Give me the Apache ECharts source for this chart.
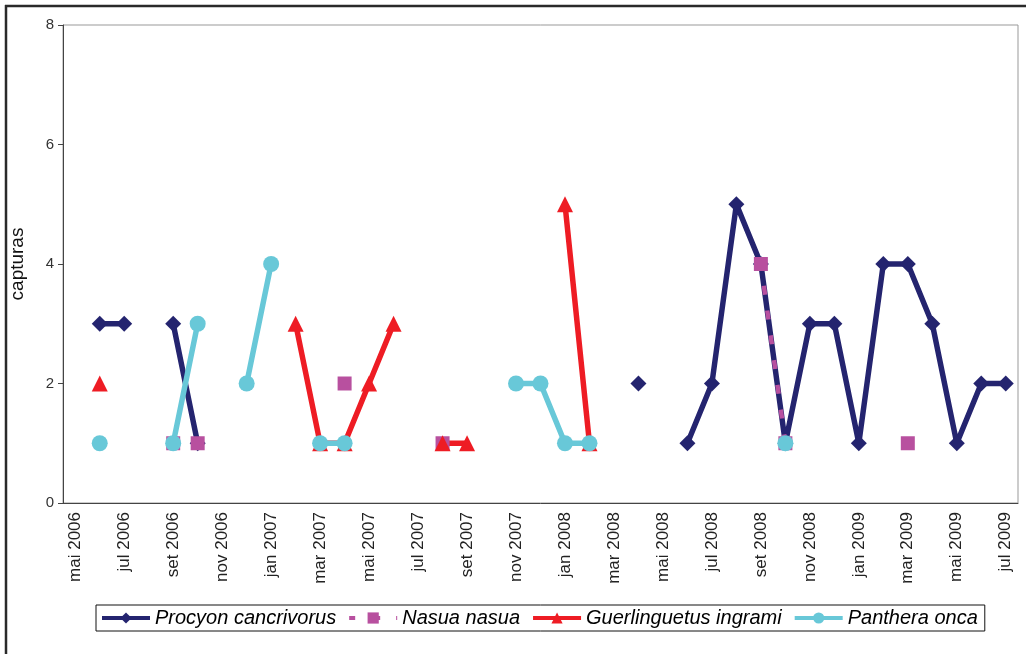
<!DOCTYPE html>
<html>
<head>
<meta charset="utf-8">
<script src="https://cdn.jsdelivr.net/npm/echarts@6/dist/echarts.min.js"></script>
<style>html,body{margin:0;padding:0;background:#fff;}#c{width:1026px;height:654px;}</style>
</head>
<body>
<div id="c"></div>
<script>
const months = ['jan','fev','mar','abr','mai','jun','jul','ago','set','out','nov','dez'];
const categories = [];
(function(){ let m = 4, y = 2006; for (let i = 0; i < 39; i++) { categories.push(months[m] + ' ' + y); m++; if (m === 12) { m = 0; y++; } } })();

const seriesNames = ['Procyon cancrivorus', 'Nasua nasua', 'Guerlinguetus ingrami', 'Panthera onca'];
const N = null;
//                 mai06 jun jul ago set out nov dez jan07 fev mar abr mai jun jul ago set out nov dez jan08 fev mar abr mai jun jul ago set out nov dez jan09 fev mar abr mai jun jul
const procyon =   [N, 3, 3, N, 3, 1, N, N, N, N, N, N, N, N, N, N, N, N, N, N, N, N, N, 2, N, 1, 2, 5, 4, 1, 3, 3, 1, 4, 4, 3, 1, 2, 2];
const nasua =     [N, N, N, N, 1, 1, N, N, N, N, N, 2, N, N, N, 1, N, N, N, N, N, N, N, N, N, N, N, N, 4, 1, N, N, N, N, 1, N, N, N, N];
const guerling =  [N, 2, N, N, N, N, N, N, N, 3, 1, 1, 2, 3, N, 1, 1, N, N, N, 5, 1, N, N, N, N, N, N, N, N, N, N, N, N, N, N, N, N, N];
const panthera =  [N, 1, N, N, 1, 3, N, 2, 4, N, 1, 1, N, N, N, N, N, N, 2, 2, 1, 1, N, N, N, N, N, N, N, 1, N, N, N, N, N, N, N, N, N];
const yTicks = [0, 2, 4, 6, 8];

const chart = echarts.init(document.getElementById('c'), null, {renderer: 'canvas'});
const font = 'Liberation Sans, Arial, sans-serif';
function mk(name, data, color, symbol, size, width, extra) {
  return Object.assign({
    name: name, type: 'line', data: data, connectNulls: false,
    symbol: symbol, symbolSize: size, showSymbol: true, showAllSymbol: true,
    itemStyle: {color: color, borderWidth: 0},
    lineStyle: {color: color, width: width},
    emphasis: {disabled: true}, animation: false
  }, extra || {});
}
chart.setOption({
  animation: false,
  textStyle: {fontFamily: font},
  graphic: [
    {type: 'line', shape: {x1: 6, y1: 5, x2: 6, y2: 654}, style: {stroke: '#2a2a2a', lineWidth: 2.5}, silent: true},
    {type: 'line', shape: {x1: 5, y1: 6, x2: 1026, y2: 6}, style: {stroke: '#2a2a2a', lineWidth: 2.5}, silent: true}
  ],
  grid: {left: 63, right: 8, top: 25, bottom: 151, show: true, borderColor: '#999', borderWidth: 1},
  xAxis: {
    type: 'category', data: categories, boundaryGap: true,
    axisLine: {lineStyle: {color: '#444', width: 1}},
    axisTick: {interval: 0, length: 5, lineStyle: {color: '#444'}},
    axisLabel: {interval: 1, rotate: 90, fontSize: 17, color: '#222', fontFamily: font, margin: 9}
  },
  yAxis: {
    type: 'value', min: yTicks[0], max: yTicks[yTicks.length - 1], interval: 2,
    name: 'capturas', nameLocation: 'middle', nameGap: 36, nameRotate: 90,
    nameTextStyle: {fontSize: 19, color: '#111', fontFamily: font},
    axisLine: {show: true, lineStyle: {color: '#444', width: 1}},
    axisTick: {show: true, length: 5, lineStyle: {color: '#444'}},
    axisLabel: {fontSize: 15, color: '#333', fontFamily: font, margin: 9},
    splitLine: {show: false}
  },
  legend: {
    left: 96, top: 605, itemWidth: 48, itemHeight: 14, itemGap: 11,
    borderColor: '#111', borderWidth: 1, padding: [3, 7, 3, 4],
    lineStyle: {width: 4},
    textStyle: {fontStyle: 'italic', fontSize: 20, color: '#000', fontFamily: font},
    data: seriesNames
  },
  series: [
    mk(seriesNames[0], procyon, '#24246f', 'diamond', 16, 5.5),
    mk(seriesNames[1], nasua, '#b8509f', 'rect', 14, 4.5, {lineStyle: {color: '#b8509f', width: 4.5, type: [9, 16], dashOffset: 3}}),
    mk(seriesNames[2], guerling, '#ee1c24', 'triangle', 16, 5.5),
    mk(seriesNames[3], panthera, '#68c8d8', 'circle', 16, 5.5)
  ]
});
</script>
</body>
</html>
